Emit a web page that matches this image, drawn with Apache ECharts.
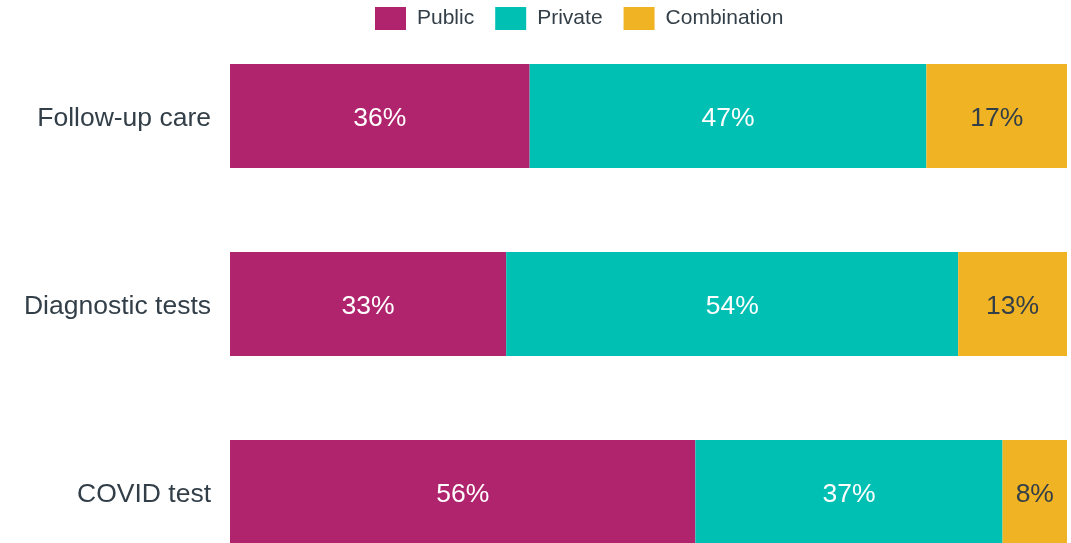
<!DOCTYPE html>
<html>
<head>
<meta charset="utf-8">
<title>Public vs private care</title>
<script src="https://cdn.jsdelivr.net/npm/echarts@6/dist/echarts.min.js"></script>
<style>
  html, body { margin: 0; padding: 0; background: #fff; overflow: hidden; }
  /* the bottom bar is cut off by the window in the original, so the canvas runs past it */
  #chart { width: 1071px; height: 586px; }
</style>
</head>
<body>
<div id="chart"></div>
<script>
(function () {

  var categories = ['Follow-up care', 'Diagnostic tests', 'COVID test'];
  var publicValues = [35.8, 33.0, 55.6];
  var privateValues = [47.4, 54.0, 36.7];
  var combinationValues = [16.8, 13.0, 7.7];

  var textColor = '#333f48';
  var fontFamily = '"Liberation Sans", Arial, sans-serif';

  function pct(p) {
    return Math.round(p.value) + '%';
  }

  function makeSeries(name, data, color, labelColor) {
    return {
      name: name,
      type: 'bar',
      stack: 'total',
      barWidth: 104,
      data: data,
      itemStyle: { color: color },
      label: {
        show: true,
        position: 'inside',
        offset: [0, 3],
        formatter: pct,
        color: labelColor,
        fontSize: 26.5,
        fontFamily: fontFamily
      },
      emphasis: { disabled: true }
    };
  }

  var myChart = echarts.init(document.getElementById('chart'));
  var option = {
    animation: false,
    legend: {
      left: 370,
      top: 2,
      itemWidth: 31,
      itemHeight: 23,
      itemGap: 21,
      icon: 'rect',
      textStyle: {
        color: textColor,
        fontSize: 21,
        fontFamily: fontFamily,
        padding: [0, 0, 0, 6]
      },
      data: ['Public', 'Private', 'Combination']
    },
    grid: {
      left: 230,
      right: 4,
      top: 22,
      bottom: 0
    },
    xAxis: {
      type: 'value',
      min: 0,
      max: 100,
      show: false
    },
    yAxis: {
      type: 'category',
      inverse: true,
      data: categories,
      axisLine: { show: false },
      axisTick: { show: false },
      axisLabel: {
        margin: 19,
        formatter: '{c|{value}}',
        rich: {
          c: {
            color: textColor,
            fontSize: 26.5,
            fontFamily: fontFamily,
            padding: [6, 0, 0, 0]
          }
        }
      }
    },
    series: [
      makeSeries('Public', publicValues, '#b0246e', '#ffffff'),
      makeSeries('Private', privateValues, '#00bfb3', '#ffffff'),
      makeSeries('Combination', combinationValues, '#f0b323', textColor)
    ]
  };

  myChart.setOption(option);
}());
</script>
</body>
</html>
